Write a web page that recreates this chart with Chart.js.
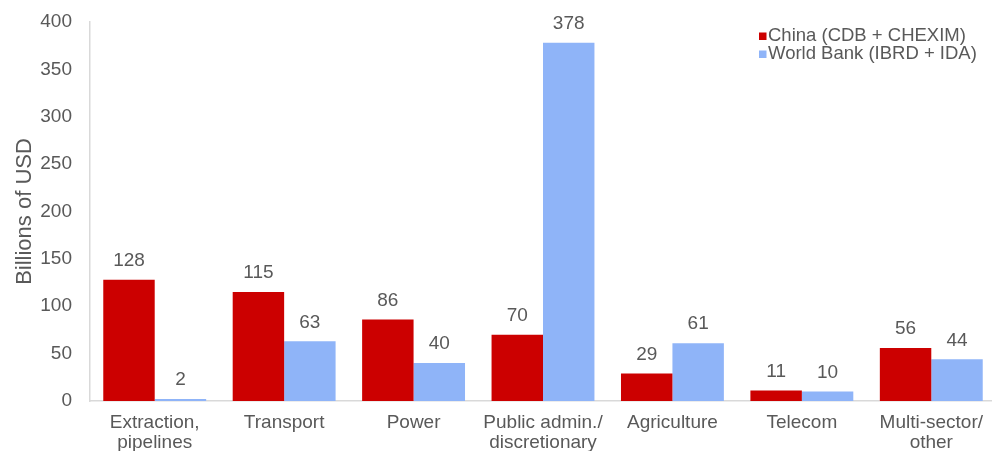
<!DOCTYPE html>
<html>
<head>
<meta charset="utf-8">
<script src="https://cdn.jsdelivr.net/npm/chart.js@4/dist/chart.umd.min.js"></script>
<style>
  html, body { margin: 0; padding: 0; background: #fff; overflow: hidden; }
  #wrap { position: absolute; left: 0; top: 0; width: 996px; height: 451px; }
</style>
</head>
<body>
<div id="wrap"><canvas id="myChart"></canvas></div>
<script>
    var categories = [
        ["Extraction,", "pipelines"],
        "Transport",
        "Power",
        ["Public admin./", "discretionary"],
        "Agriculture",
        "Telecom",
        ["Multi-sector/", "other"]
    ]
    var chinaValues = [128, 115, 86, 70, 29, 11, 56]
    var worldBankValues = [2, 63, 40, 378, 61, 10, 44]
    var yTicks = [0, 50, 100, 150, 200, 250, 300, 350, 400]

    var textColor = "#595959"
    var fontFamily = "'Liberation Sans', Arial, sans-serif"

    // value labels above each bar
    var valueLabels = {
        id: "valueLabels",
        afterDatasetsDraw: function(chart){
            var ctx = chart.ctx
            ctx.save()
            ctx.font = "19px " + fontFamily
            ctx.fillStyle = textColor
            ctx.textAlign = "center"
            ctx.textBaseline = "middle"
            chart.data.datasets.forEach(function(ds, i){
                var meta = chart.getDatasetMeta(i)
                meta.data.forEach(function(bar, j){
                    ctx.fillText(ds.data[j], bar.x, bar.y - 19)
                })
            })
            ctx.restore()
        }
    }

    // legend in the top right corner of the plot
    var cornerLegend = {
        id: "cornerLegend",
        afterDraw: function(chart){
            var ctx = chart.ctx
            var x = chart.chartArea.right - 237
            var y = chart.chartArea.top + 14
            ctx.save()
            ctx.font = "18.5px " + fontFamily
            ctx.textBaseline = "middle"
            ctx.textAlign = "left"
            chart.data.datasets.forEach(function(ds, i){
                var yy = y + i * 18
                ctx.fillStyle = ds.backgroundColor
                ctx.fillRect(x, yy - 3.5, 7.5, 7.5)
                ctx.fillStyle = textColor
                ctx.fillText(ds.label, x + 9, yy)
            })
            ctx.restore()
        }
    }

    var ctx = document.getElementById("myChart").getContext("2d")
    var chart = new Chart(ctx, {
        type: "bar",
        data: {
            labels: categories,
            datasets: [{
                label: "China (CDB + CHEXIM)",
                data: chinaValues,
                backgroundColor: "#CC0000"
            }, {
                label: "World Bank (IBRD + IDA)",
                data: worldBankValues,
                backgroundColor: "#8FB4F8"
            }]
        },
        plugins: [valueLabels, cornerLegend],
        options: {
            responsive: true,
            maintainAspectRatio: false,
            animation: false,
            categoryPercentage: 0.795,
            barPercentage: 1.0,
            layout: { padding: { top: 22, right: 0, left: 0, bottom: 0 } },
            plugins: {
                legend: { display: false },
                tooltip: { enabled: false }
            },
            scales: {
                x: {
                    grid: { display: false, drawTicks: false },
                    border: { display: true, color: "#D9D9D9", width: 1.5 },
                    ticks: {
                        color: textColor,
                        padding: 12,
                        maxRotation: 0,
                        autoSkip: false,
                        font: { family: fontFamily, size: 19, lineHeight: 1.03 }
                    },
                    afterFit: function(scale){ scale.height = 50 }
                },
                y: {
                    min: 0,
                    max: 400,
                    grid: { display: false, drawTicks: false },
                    border: { display: true, color: "#D9D9D9", width: 1.5 },
                    afterBuildTicks: function(scale){
                        scale.ticks = yTicks.map(function(v){ return { value: v } })
                    },
                    ticks: {
                        color: textColor,
                        padding: 18,
                        font: { family: fontFamily, size: 19 }
                    },
                    title: {
                        display: true,
                        text: "Billions of USD",
                        color: textColor,
                        padding: { top: 12, bottom: 0 },
                        font: { family: fontFamily, size: 22 }
                    },
                    afterFit: function(scale){
                        scale.width = 90
                        scale.paddingTop = 0
                        scale.paddingBottom = 0
                    }
                }
            }
        }
    })
</script>
</body>
</html>
